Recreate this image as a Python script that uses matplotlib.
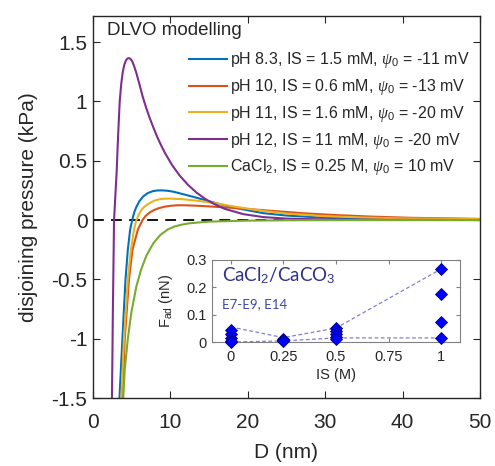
"""DLVO disjoining pressure curves with adhesion-force inset."""

import matplotlib
matplotlib.use('Agg')
import matplotlib.pyplot as plt

plt.rcParams['font.family'] = ['Liberation Sans', 'DejaVu Sans']
plt.rcParams['mathtext.fontset'] = 'custom'
plt.rcParams['mathtext.rm'] = 'Liberation Sans'
plt.rcParams['mathtext.it'] = 'Liberation Serif:italic'

# --- main panel: disjoining pressure (kPa) vs separation D (nm)
d_ph83 = [3.42, 3.8, 4.2, 4.5, 4.8, 5.1, 5.35, 5.6, 6.0, 6.5, 7.1, 7.75, 8.4, 9.0, 9.6, 10.3, 11.0, 12.0, 13.0, 14.2, 15.5, 17.5, 19.4, 22.0, 25.0, 30.0, 35.0, 40.0, 50.0]
p_ph83 = [-1.5, -1.0, -0.5, -0.25, -0.08, 0.01, 0.07, 0.11, 0.16, 0.20, 0.228, 0.244, 0.25, 0.25, 0.247, 0.24, 0.229, 0.212, 0.195, 0.173, 0.15, 0.115, 0.09, 0.058, 0.038, 0.019, 0.01, 0.006, 0.002]

d_ph10 = [3.8, 4.1, 4.65, 5.1, 5.8, 6.4, 6.8, 7.3, 7.9, 8.5, 9.2, 10.0, 10.8, 11.5, 13.0, 15.0, 17.5, 20.0, 23.0, 27.0, 31.0, 36.0, 41.0, 50.0]
p_ph10 = [-1.5, -1.0, -0.5, -0.25, -0.08, 0.0, 0.035, 0.063, 0.085, 0.10, 0.112, 0.12, 0.124, 0.125, 0.122, 0.115, 0.105, 0.093, 0.078, 0.058, 0.043, 0.029, 0.019, 0.01]

d_ph11 = [3.66, 4.0, 4.5, 4.9, 5.3, 5.6, 5.9, 6.2, 6.6, 7.0, 7.5, 8.0, 8.5, 9.0, 10.0, 11.5, 13.0, 15.5, 17.5, 19.4, 22.0, 25.0, 30.0, 35.0, 40.0, 50.0]
p_ph11 = [-1.5, -1.0, -0.5, -0.25, -0.08, 0.0, 0.045, 0.08, 0.11, 0.13, 0.15, 0.165, 0.174, 0.179, 0.181, 0.176, 0.166, 0.146, 0.122, 0.102, 0.077, 0.055, 0.033, 0.021, 0.014, 0.008]

d_ph12 = [2.45, 2.57, 2.72, 2.9, 3.05, 3.25, 3.45, 3.65, 3.85, 4.05, 4.25, 4.45, 4.65, 4.85, 5.05, 5.3, 5.6, 6.0, 6.4, 6.85, 7.3, 7.8, 8.3, 8.8, 9.3, 10.2, 11.2, 12.3, 13.4, 14.5, 15.5, 17.0, 19.4, 22.0, 25.0, 30.0, 35.0, 50.0]
p_ph12 = [-1.5, -0.75, 0.0, 0.22, 0.4, 0.72, 1.0, 1.15, 1.25, 1.31, 1.345, 1.362, 1.365, 1.358, 1.34, 1.3, 1.24, 1.145, 1.045, 0.95, 0.865, 0.78, 0.70, 0.63, 0.565, 0.465, 0.375, 0.295, 0.23, 0.178, 0.14, 0.095, 0.05, 0.025, 0.012, 0.005, 0.002, 0.0]

d_cacl2 = [3.9, 4.1, 4.5, 4.95, 5.6, 6.2, 6.9, 7.8, 8.7, 9.7, 10.5, 11.5, 12.5, 15.0, 20.0, 25.0, 30.0, 50.0]
p_cacl2 = [-1.5, -1.26, -1.0, -0.78, -0.56, -0.42, -0.30, -0.195, -0.125, -0.078, -0.055, -0.038, -0.027, -0.013, -0.005, -0.002, -0.001, 0.0]

labels = [
    r'pH 8.3, IS = 1.5 mM, $\psi_0$ = -11 mV',
    r'pH 10, IS = 0.6 mM, $\psi_0$ = -13 mV',
    r'pH 11, IS = 1.6 mM, $\psi_0$ = -20 mV',
    r'pH 12, IS = 11 mM, $\psi_0$ = -20 mV',
    r'CaCl$_2$, IS = 0.25 M, $\psi_0$ = 10 mV',
]
colors = ['#0072BD', '#D95319', '#EDB120', '#7E2F8E', '#77AC30']

# --- inset: adhesion force (nN) vs ionic strength (M)
is_0, fad_0 = [0, 0, 0, 0, 0], [0.043, 0.031, 0.016, 0.005, 0.0]
is_25, fad_25 = [0.25, 0.25, 0.25], [0.012, 0.008, 0.005]
is_50, fad_50 = [0.5, 0.5, 0.5, 0.5, 0.5], [0.052, 0.04, 0.03, 0.02, 0.012]
is_100, fad_100 = [1, 1, 1, 1], [0.267, 0.174, 0.072, 0.015]
is_env = [0, 0.25, 0.5, 1]
fad_upper = [0.055, 0.016, 0.051, 0.267]
fad_lower = [0.0, 0.004, 0.015, 0.015]

fig = plt.figure(figsize=(4.95, 4.66), dpi=100)
ax = fig.add_axes([93 / 495, 1 - 398 / 466, 387 / 495, 382 / 466])

ax.axhline(0, color='k', linestyle=(0, (6, 4)), linewidth=1.3, zorder=1)
curves = [(d_ph83, p_ph83), (d_ph10, p_ph10), (d_ph11, p_ph11), (d_ph12, p_ph12), (d_cacl2, p_cacl2)]
for (d, p), c, lab in zip(curves, colors, labels):
    ax.plot(d, p, color=c, linewidth=1.5, label=lab, zorder=2)

ax.set_xlim(0, 50)
ax.set_ylim(-1.5, 1.72)
ax.set_xticks([0, 10, 20, 30, 40, 50])
ax.set_yticks([-1.5, -1, -0.5, 0, 0.5, 1, 1.5])
ax.set_yticklabels(['-1.5', '-1', '-0.5', '0', '0.5', '1', '1.5'])
ax.tick_params(direction='in', top=True, right=True, labelsize=15, length=5,
               color='#262626', labelcolor='#262626')
ax.tick_params(axis='x', pad=11)
ax.tick_params(axis='y', pad=4)
for s in ax.spines.values():
    s.set_color('#262626')
    s.set_linewidth(1.0)
ax.set_xlabel('D (nm)', fontsize=15, color='#262626', labelpad=8)
ax.set_ylabel('disjoining pressure (kPa)', fontsize=15, color='#262626', labelpad=10)

ax.text(0.035, 0.985, 'DLVO modelling', transform=ax.transAxes, fontsize=13.5,
        ha='left', va='top', color='#262626')
leg = ax.legend(loc='upper right', bbox_to_anchor=(1.0, 0.935), frameon=False, fontsize=11.5,
                handlelength=2.4, handletextpad=0.2, labelspacing=0.42, borderaxespad=0.2)
for t in leg.get_texts():
    t.set_color('#262626')

# inset
ins = fig.add_axes([212 / 495, 1 - 342 / 466, 248 / 495, 82 / 466])
ins.plot(is_env, fad_upper, color='#8080d0', linestyle=(0, (3, 2)), linewidth=0.9)
ins.plot(is_env, fad_lower, color='#8080d0', linestyle=(0, (3, 2)), linewidth=0.9)
for x, y in [(is_0, fad_0), (is_25, fad_25), (is_50, fad_50), (is_100, fad_100)]:
    ins.plot(x, y, linestyle='none', marker='D', markersize=6.5, color='#0000ff',
             markeredgecolor='#000080', markeredgewidth=0.6, clip_on=False, zorder=3)
ins.set_xlim(-0.09, 1.09)
ins.set_ylim(0, 0.3)
ins.set_xticks([0, 0.25, 0.5, 0.75, 1])
ins.set_xticklabels(['0', '0.25', '0.5', '0.75', '1'])
ins.set_yticks([0, 0.1, 0.2, 0.3])
ins.set_yticklabels(['0', '0.1', '0.2', '0.3'])
ins.tick_params(direction='in', top=True, right=True, labelsize=10.5, length=3,
                color='#808080', labelcolor='#262626')
ins.tick_params(axis='x', pad=6)
ins.tick_params(axis='y', pad=4)
for s in ins.spines.values():
    s.set_color('#808080')
    s.set_linewidth(0.8)
ins.set_xlabel('IS (M)', fontsize=10.5, color='#262626', labelpad=3)
ins.set_ylabel(r'F$_{\rm ad}$ (nN)', fontsize=10.5, color='#262626', labelpad=8)
ins.text(0.04, 0.93, r'CaCl$_2$/CaCO$_3$', transform=ins.transAxes, fontsize=13.5,
         ha='left', va='top', color='#2e3192', family=['Lato', 'DejaVu Sans'])
ins.text(0.04, 0.53, 'E7-E9, E14', transform=ins.transAxes, fontsize=9.5,
         ha='left', va='top', color='#3f48a0', family=['Lato', 'DejaVu Sans'])

fig.savefig('out.png', dpi=100)
